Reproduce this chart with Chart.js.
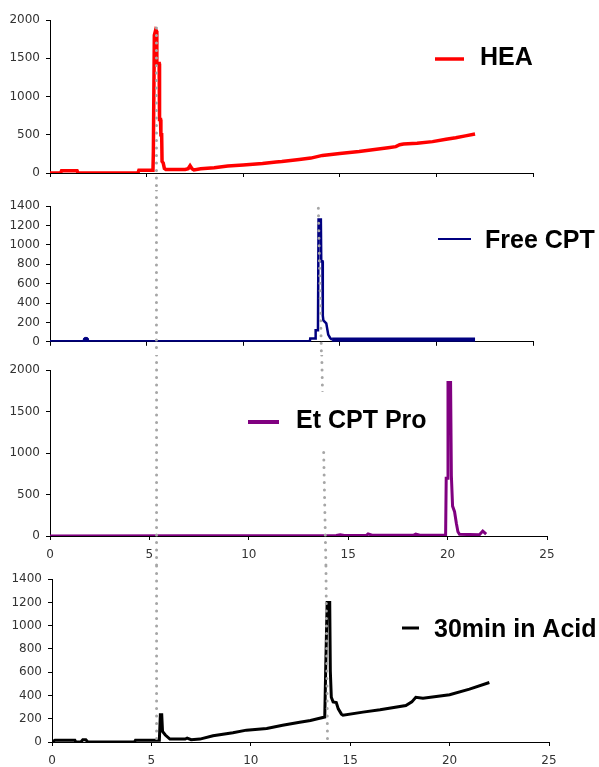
<!DOCTYPE html>
<html>
<head>
<meta charset="utf-8">
<script src="https://cdn.jsdelivr.net/npm/chart.js@4.4.1/dist/chart.umd.min.js"></script>
<style>
    html, body { margin: 0; padding: 0; background: #fff; }
    body { width: 599px; height: 767px; position: relative; overflow: hidden; }
    canvas { position: absolute; left: 0; }
</style>
</head>
<body>
<canvas id="heaChart" width="599" height="190" style="top:0px"></canvas>
<canvas id="freeChart" width="599" height="165" style="top:190px"></canvas>
<canvas id="etChart" width="599" height="211" style="top:355px"></canvas>
<canvas id="acidChart" width="599" height="201" style="top:566px"></canvas>
<script>
// retention time (min) and detector signal
const heaTime = [0, 0.55, 0.6, 1.4, 1.45, 4.55, 4.6, 5.33, 5.35, 5.4, 5.47, 5.5, 5.53, 5.65, 5.67, 5.72, 5.74, 5.78, 5.8, 5.86, 5.92, 6.0, 7.0, 7.15, 7.25, 7.35, 7.45, 7.8, 8.5, 9.2, 10.0, 10.5, 11.0, 11.7, 12.0, 12.9, 13.5, 14.1, 15.0, 16.0, 16.6, 17.5, 17.9, 18.1, 18.3, 19.0, 19.8, 20.5, 21.0, 21.5, 22.0];
const heaSignal = [0, 0, 30, 30, 0, 0, 35, 35, 280, 1800, 1870, 1860, 1430, 1430, 700, 700, 500, 500, 150, 130, 60, 45, 45, 55, 95, 55, 40, 55, 70, 90, 105, 115, 125, 145, 150, 175, 195, 230, 255, 280, 300, 330, 345, 370, 380, 390, 410, 440, 460, 485, 510];

const freeTime = [0, 1.75, 1.95, 13.45, 13.47, 13.73, 13.75, 13.87, 13.9, 14.02, 14.04, 14.1, 14.12, 14.15, 14.3, 14.4, 14.5, 14.6, 22.0];
const freeSignal = [5, 5, 5, 5, 35, 35, 120, 120, 1260, 1260, 830, 830, 270, 220, 190, 75, 40, 20, 20];
const freeDotTime = [1.86];
const freeDotSignal = [18];

const etTime = [0, 14.4, 14.6, 14.8, 15.9, 16.0, 16.2, 18.3, 18.4, 18.6, 19.9, 19.93, 20.0, 20.02, 20.15, 20.19, 20.25, 20.35, 20.44, 20.52, 20.6, 21.6, 21.77, 21.94];
const etSignal = [0, 5, 15, 5, 5, 25, 10, 10, 22, 10, 10, 695, 695, 1848, 1848, 723, 360, 293, 153, 52, 20, 15, 60, 24];

const acidTime = [0, 0.15, 1.15, 1.2, 1.45, 1.55, 1.7, 1.8, 4.15, 4.2, 5.4, 5.45, 5.52, 5.56, 5.7, 5.93, 6.7, 6.8, 7.0, 7.44, 8.1, 9.1, 9.78, 10.8, 11.6, 12.46, 13.0, 13.72, 13.77, 13.84, 13.97, 14.0, 14.05, 14.14, 14.3, 14.4, 14.56, 14.64, 15.64, 16.5, 17.8, 18.1, 18.3, 18.66, 20.0, 21.0, 22.0];
const acidSignal = [0, 15, 15, 0, 0, 20, 20, 0, 0, 15, 15, 235, 235, 90, 60, 25, 25, 34, 20, 25, 54, 79, 102, 116, 144, 170, 185, 215, 650, 1200, 1200, 610, 385, 345, 340, 285, 240, 230, 257, 277, 314, 345, 385, 376, 407, 455, 512];

// dotted guides: [x at top, y at top (null = canvas edge), x at bottom, y at bottom]
const heaGuides = [[5.51, 1895, 5.51, null]];
const freeGuides = [[5.51, null, 5.51, null], [13.89, 1377, 14.05, null]];
const etGuides = [[5.36, null, 5.36, null], [13.67, null, 13.88, null]];
const acidGuides = [[5.26, null, 5.26, -25], [13.78, null, 13.86, -25]];

const tickFont = { family: "DejaVu Sans", size: 12 };
const legendFont = "bold 25px 'Liberation Sans', Arial, sans-serif";

function to_points(xs, ys) {
    return xs.map((x, i) => ({ x: x, y: ys[i] }));
}

// draws the grey dotted guides and the in-plot legend
const overlayPlugin = {
    id: "overlay",
    afterDatasetsDraw(chart, args, opts) {
        const ctx = chart.ctx;
        const xs = chart.scales.x;
        const ys = chart.scales.y;
        ctx.save();
        ctx.strokeStyle = "#a6a6a6";
        ctx.lineWidth = 3;
        ctx.lineCap = "round";
        ctx.setLineDash([0, 7.5]);
        (opts.guides || []).forEach(g => {
            const top = g[1] === null ? 0 : ys.getPixelForValue(g[1]);
            const bottom = g[3] === null ? chart.height : ys.getPixelForValue(g[3]);
            ctx.beginPath();
            ctx.moveTo(xs.getPixelForValue(g[0]), top);
            ctx.lineTo(xs.getPixelForValue(g[2]), bottom);
            ctx.stroke();
        });
        ctx.restore();

        const lg = opts.legend;
        if (!lg) { return; }
        const ds = chart.data.datasets[0];
        ctx.save();
        ctx.font = legendFont;
        const textW = ctx.measureText(ds.label).width;
        ctx.fillStyle = "#fff";
        ctx.fillRect(lg.x1 - 6, lg.textY - 36, lg.textX + textW - lg.x1 + 12, 56);
        ctx.strokeStyle = ds.borderColor;
        ctx.lineWidth = lg.width;
        ctx.beginPath();
        ctx.moveTo(lg.x1, lg.lineY);
        ctx.lineTo(lg.x2, lg.lineY);
        ctx.stroke();
        ctx.fillStyle = "#000";
        ctx.textBaseline = "alphabetic";
        ctx.fillText(ds.label, lg.textX, lg.textY);
        ctx.restore();
    }
};

// shared config for one panel of the stack
function get_panel_config(datasets, yMax, yStep, layout, showX, guides, legend) {
    return {
        type: "line",
        data: { datasets: datasets },
        options: {
            responsive: false,
            animation: false,
            layout: { padding: { left: 0, top: layout.top, right: layout.right, bottom: 0 } },
            plugins: {
                legend: { display: false },
                tooltip: { enabled: false },
                overlay: { guides: guides, legend: legend },
            },
            elements: { point: { radius: 0 }, line: { tension: 0 } },
            scales: {
                x: {
                    type: "linear",
                    min: 0,
                    max: 25,
                    ticks: {
                        stepSize: 5, display: showX, font: tickFont, color: "#333", padding: 8, maxRotation: 0,
                        callback: (v) => String(v),
                    },
                    grid: { drawOnChartArea: false, drawTicks: true, tickLength: 4, color: "#000" },
                    border: { display: true, color: "#000", width: 1 },
                    afterFit: (s) => { s.height = layout.xHeight; },
                },
                y: {
                    min: 0,
                    max: yMax,
                    ticks: {
                        stepSize: yStep, font: tickFont, color: "#333", padding: 6,
                        callback: (v) => String(v),
                    },
                    grid: { drawOnChartArea: false, drawTicks: true, tickLength: 4, color: "#000" },
                    border: { display: true, color: "#000", width: 1 },
                    afterFit: (s) => { s.width = layout.yWidth; },
                },
            },
        },
        plugins: [overlayPlugin],
    };
}

// top panel: HEA
function create_hea_chart() {
    const datasets = [{
        label: "HEA",
        data: to_points(heaTime, heaSignal),
        borderColor: "#ff0000",
        borderWidth: 3.5,
        fill: false,
    }];
    return new Chart("heaChart", get_panel_config(datasets, 2000, 500,
        { top: 20, right: 66, xHeight: 17, yWidth: 50 }, false, heaGuides,
        { x1: 435, x2: 464, lineY: 59, width: 3.5, textX: 480, textY: 65 }));
}

// second panel: Free CPT
function create_free_chart() {
    const datasets = [{
        label: "Free CPT",
        data: to_points(freeTime, freeSignal),
        borderColor: "#000080",
        borderWidth: 2.5,
        fill: false,
        segment: { borderWidth: (c) => (c.p0.parsed.x >= 14.55 ? 4.5 : 2.5) },
    }, {
        label: "dot",
        data: to_points(freeDotTime, freeDotSignal),
        borderColor: "#000080",
        backgroundColor: "#000080",
        showLine: false,
        pointRadius: 2.8,
    }];
    return new Chart("freeChart", get_panel_config(datasets, 1400, 200,
        { top: 16, right: 66, xHeight: 8, yWidth: 50 }, false, freeGuides,
        { x1: 438, x2: 471, lineY: 49, width: 2, textX: 485, textY: 58 }));
}

// third panel: Et CPT Pro
function create_et_chart() {
    const datasets = [{
        label: "Et CPT Pro",
        data: to_points(etTime, etSignal),
        borderColor: "#800080",
        borderWidth: 3,
        fill: false,
    }];
    return new Chart("etChart", get_panel_config(datasets, 2000, 500,
        { top: 15, right: 52, xHeight: 30, yWidth: 50 }, true, etGuides,
        { x1: 248, x2: 279, lineY: 67, width: 4, textX: 296, textY: 73 }));
}

// bottom panel: 30min in Acid
function create_acid_chart() {
    const datasets = [{
        label: "30min in Acid",
        data: to_points(acidTime, acidSignal),
        borderColor: "#000000",
        borderWidth: 3,
        fill: false,
    }];
    return new Chart("acidChart", get_panel_config(datasets, 1400, 200,
        { top: 11, right: 50, xHeight: 25, yWidth: 52 }, true, acidGuides,
        { x1: 402, x2: 419, lineY: 62, width: 3, textX: 434, textY: 71 }));
}

create_hea_chart();
create_free_chart();
create_et_chart();
create_acid_chart();
</script>
</body>
</html>
